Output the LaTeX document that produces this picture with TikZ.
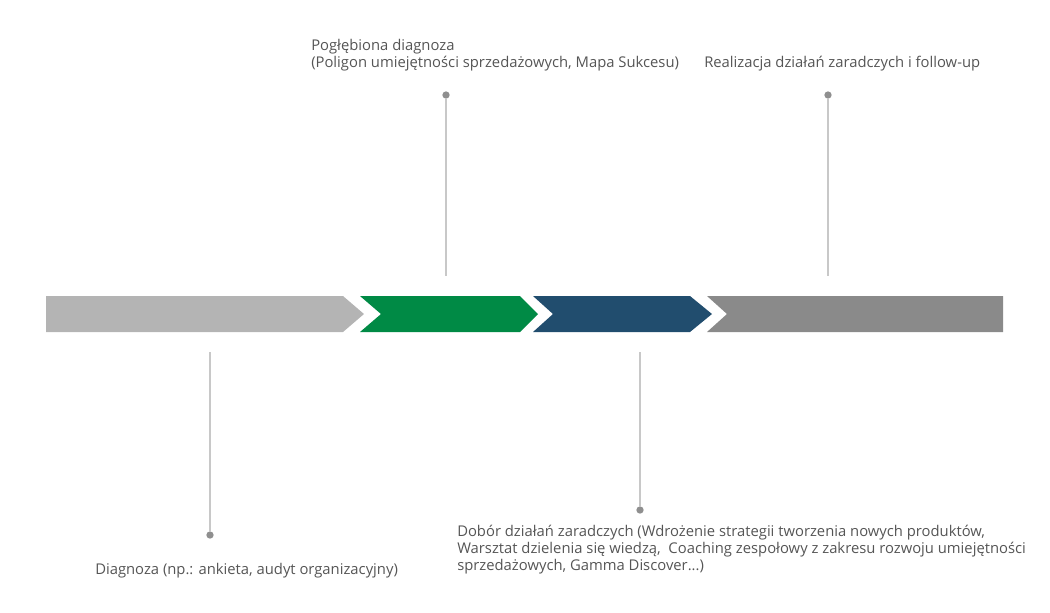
\documentclass[tikz,border=0pt]{standalone}
\usepackage{fontspec}
\setmainfont{Open Sans}
\definecolor{txt}{HTML}{555555}
\definecolor{seg1}{HTML}{B4B4B4}
\definecolor{seg2}{HTML}{008A45}
\definecolor{seg3}{HTML}{214D6E}
\definecolor{seg4}{HTML}{8A8A8A}
\definecolor{stem}{HTML}{C8C8C8}
\definecolor{dotc}{HTML}{8F8F8F}
\begin{document}
\begin{tikzpicture}[x=0.75pt,y=-0.75pt,
  lbl/.style={text=txt,font=\fontsize{11.1pt}{13pt}\selectfont,inner sep=0pt},
  stemline/.style={draw=stem,line width=1.1pt},
  pin/.style={circle,fill=dotc,minimum size=5.5pt,inner sep=0pt}]
\useasboundingbox (0,0) rectangle (1050,612);
% bar segments
\fill[seg1] (46,296) -- (343,296) -- (364,314) -- (343,332) -- (46,332) -- cycle;
\fill[seg2] (360,296) -- (520,296) -- (538,314) -- (520,332) -- (360,332) -- (381,314) -- cycle;
\fill[seg3] (533,296) -- (690,296) -- (712,314) -- (690,332) -- (533,332) -- (553,314) -- cycle;
\fill[seg4] (707,296) -- (1003,296) -- (1003,332) -- (707,332) -- (727,314) -- cycle;
% pins
\node[pin] (p1) at (446,95) {};
\coordinate (e1) at (446,276);
\node[pin] (p2) at (828,95) {};
\coordinate (e2) at (828,276);
\node[pin] (p3) at (210,535) {};
\coordinate (e3) at (210,352);
\node[pin] (p4) at (640,510) {};
\coordinate (e4) at (640,352);
\draw[stemline] (p1) -- (e1);
\draw[stemline] (p2) -- (e2);
\draw[stemline] (p3) -- (e3);
\draw[stemline] (p4) -- (e4);
% labels
\node[lbl,anchor=base west] (t1) at (311,50.5) {Pogłębiona diagnoza};
\node[lbl,anchor=base west] (t1b) at (311,67) {(Poligon umiejętności sprzedażowych, Mapa Sukcesu)};
\node[lbl,anchor=base west] (t2) at (704,67) {Realizacja działań zaradczych i follow-up};
\node[lbl,anchor=base west] (t3) at (95,574) {Diagnoza (np.: ankieta, audyt organizacyjny)};
\node[lbl,anchor=base west] (t4a) at (457,536) {Dobór działań zaradczych (Wdrożenie strategii tworzenia nowych produktów,};
\node[lbl,anchor=base west] (t4b) at (457,553) {Warsztat dzielenia się wiedzą,\ \ Coaching zespołowy z zakresu rozwoju umiejętności};
\node[lbl,anchor=base west] (t4c) at (457,570) {sprzedażowych, Gamma Discover...)};
\end{tikzpicture}
\end{document}
